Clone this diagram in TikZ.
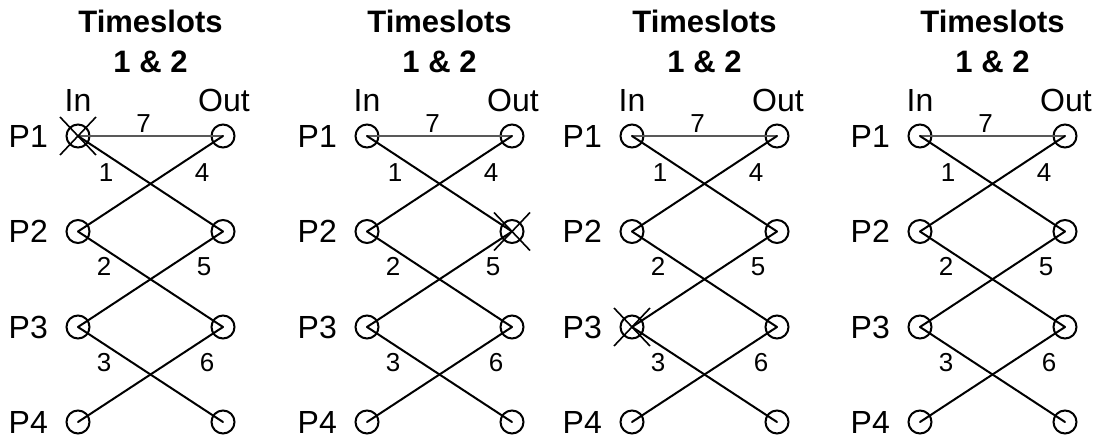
\documentclass[tikz,border=0pt]{standalone}
\usepackage{fontspec}
\setmainfont{Liberation Sans}
\begin{document}
\begin{tikzpicture}[x=1pt,y=-1pt,
  port/.style={circle,draw,line width=2pt,minimum size=23pt,inner sep=0pt},
  link/.style={line width=2pt,line cap=round},
  weak/.style={line width=1.6pt,black!65,line cap=round},
  cross/.style={line width=1.6pt},
  lbl/.style={font=\fontsize{32}{32}\selectfont,inner sep=0pt},
  num/.style={font=\fontsize{26}{26}\selectfont,inner sep=0pt,anchor=base},
  title/.style={font=\bfseries\fontsize{31}{31}\selectfont,inner sep=0pt,anchor=base}]
\useasboundingbox (0,0) rectangle (1101,438);
% four switch snapshots: input column at \xi, output column at \xo
\foreach \k/\xi/\xo in {1/78/223, 2/367/512, 3/632/777, 4/920/1065} {
  \pgfmathsetmacro{\xm}{(\xi+\xo)/2}
  \node[title] (ta\k) at (\xm,33) {Timeslots};
  \node[title] (tb\k) at (\xm,73) {1 \& 2};
  \node[lbl,anchor=base] (in\k) at (\xi,112) {In};
  \node[lbl,anchor=base] (out\k) at (\xo+1,112) {Out};
  \foreach \r/\y in {1/136, 2/231.5, 3/327, 4/422} {
    \node[port] (i\k-\r) at (\xi,\y) {};
    \node[port] (o\k-\r) at (\xo,\y) {};
    \node[lbl,anchor=east] (p\k-\r) at (\xi-30,\y) {P\r};
  }
  % connections
  \draw[weak] (i\k-1.center) -- (o\k-1.center);
  \draw[link] (i\k-1.center) -- (o\k-2.center);
  \draw[link] (o\k-1.center) -- (i\k-2.center);
  \draw[link] (i\k-2.center) -- (o\k-3.center);
  \draw[link] (o\k-2.center) -- (i\k-3.center);
  \draw[link] (i\k-3.center) -- (o\k-4.center);
  \draw[link] (o\k-3.center) -- (i\k-4.center);
  % connection numbers
  \node[num] (n7-\k) at (\xm-7,133) {7};
  \node[num] (n1-\k) at (\xi+28,182) {1};
  \node[num] (n4-\k) at (\xo-21,182) {4};
  \node[num] (n2-\k) at (\xi+26,276) {2};
  \node[num] (n5-\k) at (\xo-19,276) {5};
  \node[num] (n3-\k) at (\xi+26,372) {3};
  \node[num] (n6-\k) at (\xo-16,372) {6};
}
% failed ports
\foreach \p in {i1-1, o2-2, i3-3} {
  \draw[cross] ([shift={(-18,-19)}]\p.center) -- ([shift={(18,19)}]\p.center);
  \draw[cross] ([shift={(18,-19)}]\p.center) -- ([shift={(-18,19)}]\p.center);
}
\end{tikzpicture}
\end{document}
